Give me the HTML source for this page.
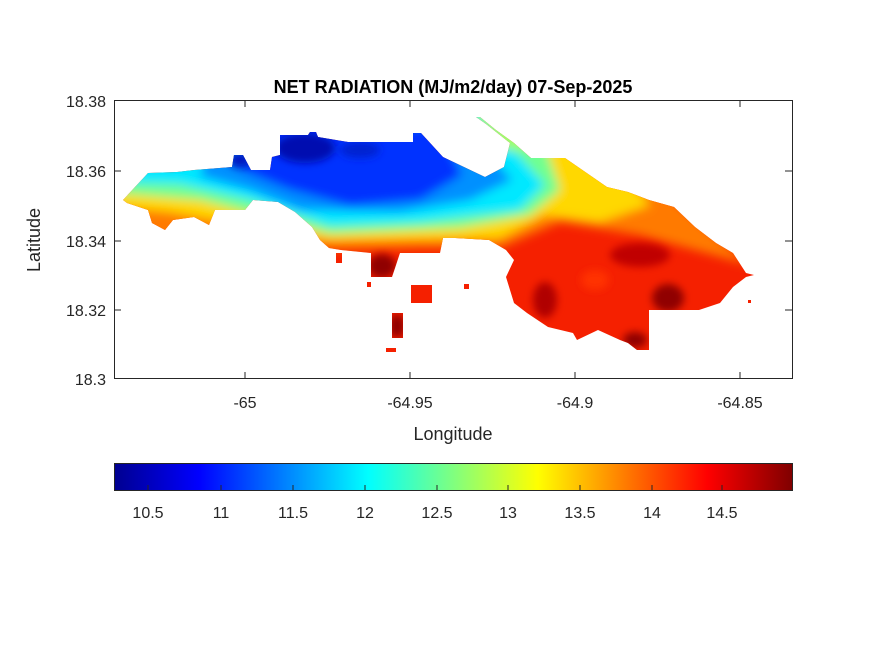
<!DOCTYPE html>
<html><head><meta charset="utf-8"><style>
html,body{margin:0;padding:0;background:#fff}
svg{display:block}
text{font-family:"Liberation Sans",Arial,sans-serif;fill:#262626}
</style></head><body>
<svg width="875" height="656" viewBox="0 0 875 656" xmlns="http://www.w3.org/2000/svg">
<defs>
<linearGradient id="jet" x1="0" x2="1" y1="0" y2="0">
<stop offset="0" stop-color="#00008f"/><stop offset="0.125" stop-color="#0000ff"/>
<stop offset="0.375" stop-color="#00ffff"/><stop offset="0.625" stop-color="#ffff00"/>
<stop offset="0.875" stop-color="#ff0000"/><stop offset="1" stop-color="#800000"/>
</linearGradient>
<filter id="b" x="-50%" y="-50%" width="200%" height="200%"><feGaussianBlur stdDeviation="5"/></filter>
<filter id="b2" x="-50%" y="-50%" width="200%" height="200%"><feGaussianBlur stdDeviation="4"/></filter>
<clipPath id="isl">
<polygon points="123,200 148,173 177,172 194,170 232,167 234,155 243,155 251,170 270,170 272,157 280,155 280,135 308,135 310,132 316,132 318,137 348,142 381,142 413,142 413,133 421,133 443,157 485,177 504,167 510,143 486,124 476,117 480,117 496,130 514,143 531,158 565,158 607,187 628,192 649,200 674,207 695,227 716,243 733,253 746,273 754,275 746,277 733,287 720,303 699,310 674,310 649,310 649,350 637,350 628,343 620,340 598,330 577,340 573,333 548,327 527,313 514,303 506,277 514,260 506,250 489,240 455,238 443,238 440,253 400,253 392,277 371,277 371,253 341,250 329,248 320,240 312,227 295,212 278,202 253,200 245,210 215,210 209,225 194,217 173,220 165,230 152,223 148,210 127,203"/>
<rect x="411" y="285" width="21" height="18"/>
<rect x="392" y="313" width="11" height="25"/>
<rect x="386" y="348" width="10" height="4"/>
<rect x="367" y="282" width="4" height="5"/>
<rect x="464" y="284" width="5" height="5"/>
<rect x="748" y="300" width="3" height="3"/>
<rect x="336" y="253" width="6" height="10"/>
</clipPath>
</defs>
<text x="453" y="93" text-anchor="middle" font-size="18" font-weight="bold" style="fill:#000">NET RADIATION (MJ/m2/day) 07-Sep-2025</text>
<g clip-path="url(#isl)">
<rect x="110" y="110" width="660" height="250" fill="#f52000"/>
<g filter="url(#b)">
<polygon points="100,100 560,100 750,265 640,235 560,222 500,248 420,248 330,250 100,245" fill="#ff7a00"/>
<polygon points="100,100 560,100 650,205 600,222 545,215 500,238 330,240 170,212 100,205" fill="#ffd800"/>
<polygon points="100,100 530,100 560,190 530,215 460,228 330,234 200,200 100,192" fill="#70ff90"/>
<polygon points="100,100 470,100 545,185 520,210 420,222 330,226 250,200 180,184 100,182" fill="#00e8ff"/>
<polygon points="225,100 440,100 512,180 470,200 400,212 300,210 250,190 200,176" fill="#0090ff"/>
<polygon points="255,118 440,128 462,175 420,200 350,206 290,190 240,170" fill="#0030ff"/>
<polygon points="470,110 500,110 530,150 505,150" fill="#a0ff60"/>
</g>
<g filter="url(#b2)">
<ellipse cx="305" cy="148" rx="30" ry="15" fill="#0010b0"/>
<ellipse cx="240" cy="160" rx="12" ry="8" fill="#0018c0"/>
<ellipse cx="360" cy="150" rx="20" ry="8" fill="#0020d0"/>
<ellipse cx="382" cy="266" rx="14" ry="12" fill="#900000"/>
<ellipse cx="397" cy="326" rx="8" ry="12" fill="#900000"/>
<ellipse cx="640" cy="255" rx="30" ry="12" fill="#c00000"/>
<ellipse cx="668" cy="298" rx="16" ry="14" fill="#900000"/>
<ellipse cx="635" cy="340" rx="12" ry="8" fill="#900000"/>
<ellipse cx="545" cy="300" rx="12" ry="18" fill="#b00000"/>
<ellipse cx="595" cy="280" rx="14" ry="10" fill="#ff3000"/>
</g>
</g>
<rect x="114.5" y="100.5" width="678" height="278" fill="none" stroke="#262626" stroke-width="1"/>
<g stroke="#262626">
<line x1="245" y1="379" x2="245" y2="372"/><line x1="410" y1="379" x2="410" y2="372"/>
<line x1="575" y1="379" x2="575" y2="372"/><line x1="740" y1="379" x2="740" y2="372"/>
<line x1="245" y1="101" x2="245" y2="107"/><line x1="410" y1="101" x2="410" y2="107"/>
<line x1="575" y1="101" x2="575" y2="107"/><line x1="740" y1="101" x2="740" y2="107"/>
<line x1="114" y1="171" x2="121" y2="171"/><line x1="114" y1="241" x2="121" y2="241"/><line x1="114" y1="310" x2="121" y2="310"/>
<line x1="792" y1="171" x2="785" y2="171"/><line x1="792" y1="241" x2="785" y2="241"/><line x1="792" y1="310" x2="785" y2="310"/>
</g>
<g font-size="16" text-anchor="end">
<text x="106" y="107">18.38</text><text x="106" y="177">18.36</text>
<text x="106" y="247">18.34</text><text x="106" y="316">18.32</text><text x="106" y="385">18.3</text>
</g>
<g font-size="16" text-anchor="middle">
<text x="245" y="408">-65</text><text x="410" y="408">-64.95</text>
<text x="575" y="408">-64.9</text><text x="740" y="408">-64.85</text>
</g>
<text x="453" y="440" font-size="18" text-anchor="middle">Longitude</text>
<text transform="translate(40,240) rotate(-90)" font-size="18" text-anchor="middle">Latitude</text>
<rect x="114" y="463" width="678" height="27" fill="url(#jet)"/>
<rect x="114.5" y="463.5" width="678" height="27" fill="none" stroke="#262626"/>
<g stroke="#262626">
<line x1="148" y1="490" x2="148" y2="485"/><line x1="221" y1="490" x2="221" y2="485"/>
<line x1="293" y1="490" x2="293" y2="485"/><line x1="365" y1="490" x2="365" y2="485"/>
<line x1="437" y1="490" x2="437" y2="485"/><line x1="508" y1="490" x2="508" y2="485"/>
<line x1="580" y1="490" x2="580" y2="485"/><line x1="652" y1="490" x2="652" y2="485"/>
<line x1="722" y1="490" x2="722" y2="485"/>
</g>
<g font-size="16" text-anchor="middle">
<text x="148" y="518">10.5</text><text x="221" y="518">11</text><text x="293" y="518">11.5</text>
<text x="365" y="518">12</text><text x="437" y="518">12.5</text><text x="508" y="518">13</text>
<text x="580" y="518">13.5</text><text x="652" y="518">14</text><text x="722" y="518">14.5</text>
</g>
</svg>
</body></html>
